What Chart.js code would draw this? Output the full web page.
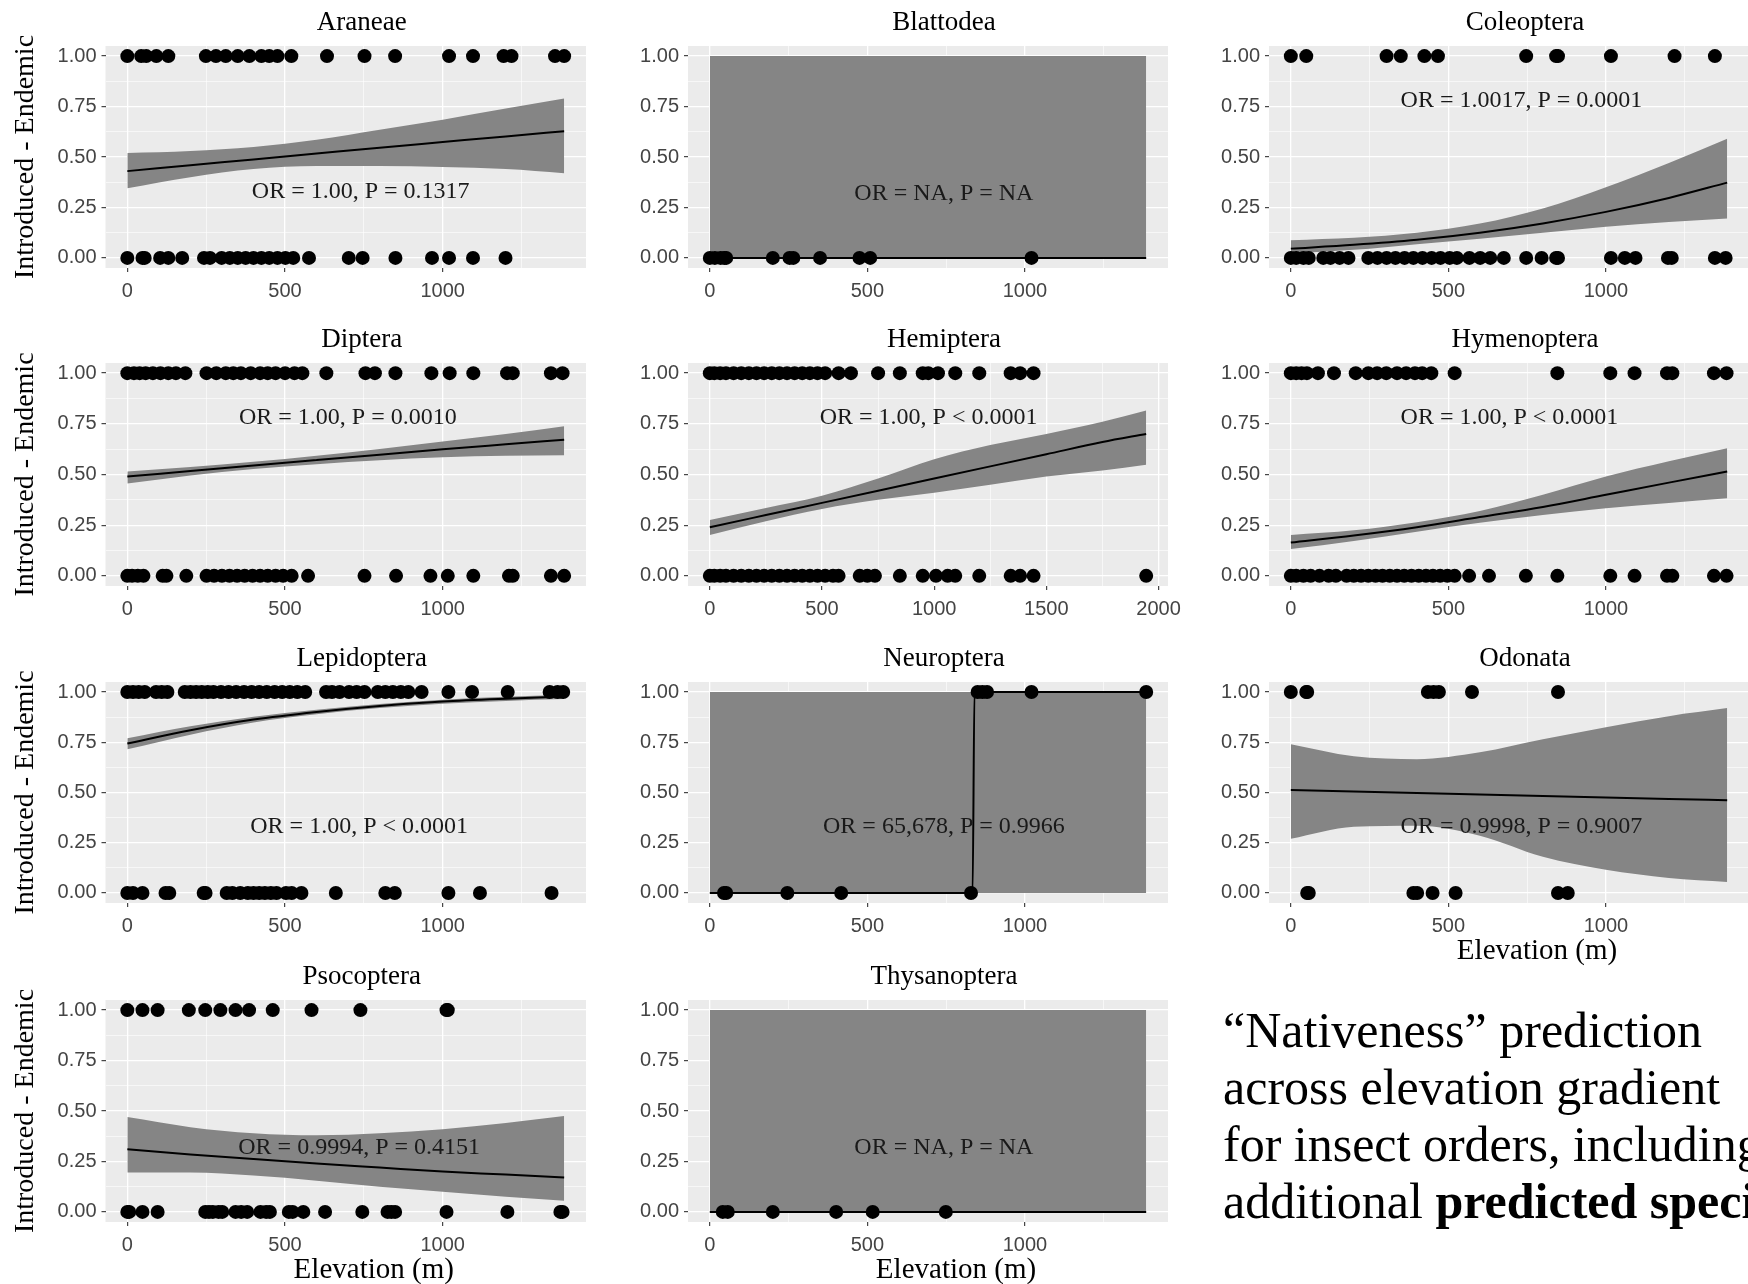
<!DOCTYPE html>
<html>
<head>
<meta charset="utf-8">
<script src="https://cdn.jsdelivr.net/npm/chart.js@4.4.0/dist/chart.umd.min.js"></script>
<style>
  html, body { margin: 0; padding: 0; background: #fff; }
  #wrap { position: relative; width: 1748px; height: 1284px; overflow: hidden; background: #fff; }
  #wrap canvas { position: absolute; }
  #caption { position: absolute; left: 1223px; top: 1002px; font: 50px/57px "Liberation Serif", "Times New Roman", serif; color: #000; white-space: nowrap; }
</style>
</head>
<body>
<div id="wrap">
  <div id="caption">“Nativeness” prediction<br>across elevation gradient<br>for insect orders, including<br>additional <b>predicted species</b></div>
</div>
<script>
// x grids of the fitted curves (elevation, m)
const gridX = [0, 200, 400, 600, 800, 1000, 1200, 1385];
const hemipteraGridX = [0, 250, 500, 750, 1000, 1250, 1500, 1750, 1945];
const neuropteraGridX = [0, 834, 840, 1385];
const flatGridX = [0, 1385];

// elevations of records at 1.00 (Y1) and 0.00 (Y0), fit, lower / upper band
const araneaeY1 = [0, 44, 60, 92, 130, 249, 281, 312, 350, 387, 425, 450, 476, 520, 633, 752, 849, 1020, 1096, 1193, 1218, 1356, 1385];
const araneaeY0 = [0, 48, 55, 104, 130, 174, 243, 262, 299, 325, 350, 375, 400, 425, 450, 476, 501, 526, 576, 702, 746, 850, 966, 1020, 1096, 1199];
const araneaeFit = [0.43, 0.459, 0.488, 0.517, 0.546, 0.574, 0.602, 0.628];
const araneaeLo = [0.345, 0.40, 0.44, 0.455, 0.455, 0.45, 0.44, 0.42];
const araneaeHi = [0.52, 0.53, 0.55, 0.585, 0.635, 0.685, 0.74, 0.79];

const blattodeaY1 = [];
const blattodeaY0 = [0, 16, 34, 46, 52, 200, 253, 265, 350, 475, 509, 1021];
const blattodeaFit = [0, 0];
const blattodeaLo = [0, 0];
const blattodeaHi = [1, 1];

const coleopteraY1 = [0, 49, 304, 349, 424, 467, 747, 842, 848, 1016, 1218, 1346];
const coleopteraY0 = [0, 17, 40, 57, 103, 126, 155, 183, 246, 275, 304, 332, 361, 389, 418, 447, 475, 504, 527, 567, 601, 633, 676, 747, 796, 842, 848, 1016, 1060, 1094, 1197, 1209, 1346, 1380];
const coleopteraFit = [0.046, 0.065, 0.09, 0.125, 0.171, 0.228, 0.297, 0.373];
const coleopteraLo = [0.022, 0.04, 0.068, 0.095, 0.125, 0.155, 0.178, 0.195];
const coleopteraHi = [0.088, 0.10, 0.125, 0.17, 0.245, 0.35, 0.47, 0.59];

const dipteraY1 = [0, 21, 39, 58, 81, 105, 130, 154, 184, 251, 282, 312, 336, 360, 391, 421, 445, 470, 500, 530, 555, 631, 755, 785, 850, 964, 1022, 1097, 1204, 1222, 1343, 1380];
const dipteraY0 = [0, 15, 33, 51, 112, 124, 187, 251, 275, 300, 324, 348, 372, 397, 421, 445, 470, 494, 521, 573, 752, 852, 961, 1016, 1097, 1210, 1222, 1343, 1385];
const dipteraFit = [0.49, 0.517, 0.544, 0.571, 0.598, 0.624, 0.649, 0.672];
const dipteraLo = [0.455, 0.495, 0.527, 0.551, 0.57, 0.585, 0.592, 0.595];
const dipteraHi = [0.515, 0.537, 0.563, 0.593, 0.626, 0.663, 0.70, 0.738];

const hemipteraY1 = [0, 20, 46, 72, 106, 140, 174, 208, 242, 276, 310, 344, 378, 412, 446, 480, 514, 574, 629, 750, 847, 949, 974, 1017, 1094, 1201, 1341, 1383, 1443];
const hemipteraY0 = [0, 20, 46, 72, 106, 140, 174, 208, 242, 276, 310, 344, 378, 412, 446, 480, 514, 549, 574, 668, 702, 736, 847, 949, 1008, 1060, 1094, 1201, 1341, 1383, 1443, 1945];
const hemipteraFit = [0.24, 0.30, 0.36, 0.42, 0.48, 0.54, 0.60, 0.66, 0.70];
const hemipteraLo = [0.202, 0.27, 0.33, 0.375, 0.41, 0.45, 0.49, 0.52, 0.548];
const hemipteraHi = [0.276, 0.335, 0.395, 0.48, 0.575, 0.645, 0.70, 0.76, 0.816];

const hymenopteraY1 = [0, 17, 34, 51, 86, 137, 206, 246, 274, 303, 337, 366, 394, 417, 446, 520, 846, 1014, 1091, 1194, 1211, 1343, 1383];
const hymenopteraY0 = [0, 17, 40, 63, 91, 120, 143, 177, 200, 223, 246, 269, 291, 314, 337, 360, 383, 406, 429, 451, 474, 497, 520, 566, 629, 746, 846, 1014, 1091, 1194, 1211, 1343, 1383];
const hymenopteraFit = [0.164, 0.199, 0.24, 0.29, 0.34, 0.40, 0.46, 0.515];
const hymenopteraLo = [0.132, 0.172, 0.218, 0.262, 0.30, 0.334, 0.36, 0.383];
const hymenopteraHi = [0.202, 0.225, 0.265, 0.32, 0.40, 0.49, 0.565, 0.63];

const lepidopteraY1 = [0, 18, 36, 55, 91, 109, 127, 182, 200, 218, 236, 255, 273, 297, 321, 345, 370, 394, 418, 442, 467, 491, 515, 539, 564, 630, 649, 673, 703, 727, 752, 794, 818, 842, 867, 891, 933, 1018, 1093, 1206, 1339, 1364, 1382];
const lepidopteraY0 = [0, 18, 48, 121, 133, 242, 248, 315, 333, 358, 382, 400, 418, 436, 455, 473, 503, 521, 552, 661, 818, 848, 1018, 1118, 1345];
const lepidopteraFit = [0.744, 0.81, 0.863, 0.901, 0.931, 0.953, 0.967, 0.977];
const lepidopteraLo = [0.715, 0.788, 0.848, 0.889, 0.92, 0.942, 0.956, 0.965];
const lepidopteraHi = [0.77, 0.83, 0.877, 0.912, 0.94, 0.962, 0.976, 0.985];

const neuropteraY1 = [850, 865, 880, 1021, 1385];
const neuropteraY0 = [45, 52, 246, 417, 829];
const neuropteraFit = [0, 0, 1, 1];
const neuropteraLo = [0, 0, 0, 0];
const neuropteraHi = [1, 1, 1, 1];

const odonataY1 = [0, 49, 52, 435, 453, 470, 575, 848];
const odonataY0 = [52, 57, 389, 401, 450, 523, 848, 879];
const odonataFit = [0.512, 0.505, 0.497, 0.49, 0.482, 0.475, 0.468, 0.461];
const odonataLo = [0.27, 0.33, 0.335, 0.285, 0.18, 0.115, 0.075, 0.055];
const odonataHi = [0.74, 0.68, 0.666, 0.70, 0.765, 0.825, 0.88, 0.92];

const psocopteraY1 = [0, 48, 96, 195, 247, 295, 343, 386, 461, 584, 739, 1012, 1016];
const psocopteraY0 = [0, 6, 48, 96, 247, 259, 271, 289, 301, 343, 361, 380, 422, 440, 452, 512, 524, 558, 627, 745, 825, 837, 849, 1012, 1205, 1373, 1380];
const psocopteraFit = [0.31, 0.285, 0.262, 0.24, 0.22, 0.20, 0.185, 0.17];
const psocopteraLo = [0.195, 0.195, 0.18, 0.155, 0.125, 0.10, 0.075, 0.055];
const psocopteraHi = [0.47, 0.42, 0.39, 0.38, 0.39, 0.41, 0.44, 0.475];

const thysanopteraY1 = [];
const thysanopteraY0 = [41, 57, 200, 401, 517, 749];
const thysanopteraFit = [0, 0];
const thysanopteraLo = [0, 0];
const thysanopteraHi = [1, 1];

const orderNames = ['Araneae', 'Blattodea', 'Coleoptera', 'Diptera', 'Hemiptera', 'Hymenoptera',
  'Lepidoptera', 'Neuroptera', 'Odonata', 'Psocoptera', 'Thysanoptera'];
const orLabels = ['OR = 1.00, P = 0.1317', 'OR = NA, P = NA', 'OR = 1.0017, P = 0.0001', 'OR = 1.00, P = 0.0010',
  'OR = 1.00, P < 0.0001', 'OR = 1.00, P < 0.0001', 'OR = 1.00, P < 0.0001', 'OR = 65,678, P = 0.9966',
  'OR = 0.9998, P = 0.9007', 'OR = 0.9994, P = 0.4151', 'OR = NA, P = NA'];
const yTickLabels = ['0.00', '0.25', '0.50', '0.75', '1.00'];

// page layout (px)
const COLS = [
  { left: 0, width: 600, plotL: 105.5, plotR: 586 },
  { left: 600, width: 590, plotL: 688, plotR: 1168 },
  { left: 1190, width: 600, plotL: 1269, plotR: 1749 }
];
const ROWS = [
  { top: 0, height: 320, plotT: 46, plotB: 268 },
  { top: 320, height: 315, plotT: 363, plotB: 586 },
  { top: 635, height: 345, plotT: 682, plotB: 903 },
  { top: 960, height: 324, plotT: 1000, plotB: 1222 }
];

const panels = [
  { row: 0, col: 0, gx: gridX, y1: araneaeY1, y0: araneaeY0, fit: araneaeFit, lo: araneaeLo, hi: araneaeHi, noteX: 740, noteY: 0.33 },
  { row: 0, col: 1, gx: flatGridX, y1: blattodeaY1, y0: blattodeaY0, fit: blattodeaFit, lo: blattodeaLo, hi: blattodeaHi, noteX: 743, noteY: 0.32 },
  { row: 0, col: 2, gx: gridX, y1: coleopteraY1, y0: coleopteraY0, fit: coleopteraFit, lo: coleopteraLo, hi: coleopteraHi, noteX: 732, noteY: 0.78 },
  { row: 1, col: 0, gx: gridX, y1: dipteraY1, y0: dipteraY0, fit: dipteraFit, lo: dipteraLo, hi: dipteraHi, noteX: 699, noteY: 0.78 },
  { row: 1, col: 1, gx: hemipteraGridX, y1: hemipteraY1, y0: hemipteraY0, fit: hemipteraFit, lo: hemipteraLo, hi: hemipteraHi, noteX: 975, noteY: 0.78 },
  { row: 1, col: 2, gx: gridX, y1: hymenopteraY1, y0: hymenopteraY0, fit: hymenopteraFit, lo: hymenopteraLo, hi: hymenopteraHi, noteX: 694, noteY: 0.78 },
  { row: 2, col: 0, gx: gridX, y1: lepidopteraY1, y0: lepidopteraY0, fit: lepidopteraFit, lo: lepidopteraLo, hi: lepidopteraHi, noteX: 735, noteY: 0.33 },
  { row: 2, col: 1, gx: neuropteraGridX, y1: neuropteraY1, y0: neuropteraY0, fit: neuropteraFit, lo: neuropteraLo, hi: neuropteraHi, noteX: 743, noteY: 0.33 },
  { row: 2, col: 2, gx: gridX, y1: odonataY1, y0: odonataY0, fit: odonataFit, lo: odonataLo, hi: odonataHi, noteX: 732, noteY: 0.33, xTitle: true },
  { row: 3, col: 0, gx: gridX, y1: psocopteraY1, y0: psocopteraY0, fit: psocopteraFit, lo: psocopteraLo, hi: psocopteraHi, noteX: 735, noteY: 0.32, xTitle: true },
  { row: 3, col: 1, gx: flatGridX, y1: thysanopteraY1, y0: thysanopteraY0, fit: thysanopteraFit, lo: thysanopteraLo, hi: thysanopteraHi, noteX: 743, noteY: 0.32, xTitle: true }
];

const SERIF = '"Liberation Serif", "Times New Roman", serif';
const SANS = '"Liberation Sans", Arial, sans-serif';
const RIBBON = '#858585';

// ggplot-like panel background and the texts around each panel
const decor = {
  id: 'decor',
  beforeDraw(chart, args, o) {
    const a = chart.chartArea, ctx = chart.ctx;
    ctx.save();
    ctx.fillStyle = '#EBEBEB';
    ctx.fillRect(a.left, a.top, a.right - a.left, a.bottom - a.top);
    ctx.restore();
  },
  afterDraw(chart, args, o) {
    const a = chart.chartArea, ctx = chart.ctx;
    const cx = (a.left + a.right) / 2;
    ctx.save();
    ctx.textAlign = 'center';
    ctx.textBaseline = 'middle';
    ctx.fillStyle = '#000';
    ctx.font = '27px ' + SERIF;
    ctx.fillText(o.title, cx + 16, a.top - 23);
    ctx.fillStyle = '#1a1a1a';
    ctx.font = '24px ' + SERIF;
    ctx.fillText(o.note, chart.scales.x.getPixelForValue(o.noteX), chart.scales.y.getPixelForValue(o.noteY));
    ctx.fillStyle = '#000';
    if (o.xTitle) {
      ctx.font = '29px ' + SERIF;
      ctx.fillText('Elevation (m)', cx + 28, a.bottom + 48);
    }
    if (o.yTitle) {
      ctx.translate(26, (a.top + a.bottom) / 2);
      ctx.rotate(-Math.PI / 2);
      ctx.font = '28px ' + SERIF;
      ctx.fillText('Introduced - Endemic', 0, 0);
    }
    ctx.restore();
  }
};

const wrap = document.getElementById('wrap');
const isMajorX = v => Math.abs(v % 500) < 1e-6;
const isMajorY = v => Math.abs(v * 4 - Math.round(v * 4)) < 1e-6;
const pairs = (xs, ys) => xs.map((x, i) => ({ x: x, y: ys[i] }));

panels.forEach((p, k) => {
  const col = COLS[p.col], row = ROWS[p.row];
  const canvas = document.createElement('canvas');
  canvas.width = col.width;
  canvas.height = row.height;
  canvas.style.left = col.left + 'px';
  canvas.style.top = row.top + 'px';
  wrap.appendChild(canvas);
  const xEnd = p.gx[p.gx.length - 1];
  const curve = { pointRadius: 0, pointHoverRadius: 0, cubicInterpolationMode: 'monotone' };

  new Chart(canvas, {
    type: 'line',
    data: {
      datasets: [
        Object.assign({ data: pairs(p.gx, p.hi), fill: '+1', backgroundColor: RIBBON, borderColor: 'rgba(0,0,0,0)', borderWidth: 1, order: 2 }, curve),
        Object.assign({ data: pairs(p.gx, p.lo), fill: false, borderColor: 'rgba(0,0,0,0)', borderWidth: 1, order: 2 }, curve),
        Object.assign({ data: pairs(p.gx, p.fit), fill: false, borderColor: '#000', borderWidth: 2, order: 1 }, curve),
        { data: p.y0.map(x => ({ x: x, y: 0 })), showLine: false, pointRadius: 7, pointHoverRadius: 7, pointBackgroundColor: '#000', pointBorderWidth: 0, order: 0 },
        { data: p.y1.map(x => ({ x: x, y: 1 })), showLine: false, pointRadius: 7, pointHoverRadius: 7, pointBackgroundColor: '#000', pointBorderWidth: 0, order: 0 }
      ]
    },
    options: {
      responsive: false,
      animation: false,
      devicePixelRatio: 1,
      events: [],
      layout: { padding: { left: 0, top: row.plotT - row.top, right: col.left + col.width - col.plotR, bottom: 0 } },
      plugins: {
        legend: { display: false },
        tooltip: { enabled: false },
        decor: { title: orderNames[k], note: orLabels[k], noteX: p.noteX, noteY: p.noteY, xTitle: !!p.xTitle, yTitle: p.col === 0 }
      },
      scales: {
        x: {
          type: 'linear',
          min: -0.05 * xEnd,
          max: 1.05 * xEnd,
          afterFit: s => { s.height = row.top + row.height - row.plotB; },
          afterBuildTicks: s => {
            const t = [];
            for (let v = Math.ceil(s.min / 250) * 250; v <= s.max; v += 250) t.push({ value: v });
            s.ticks = t;
          },
          border: { display: false },
          grid: {
            color: '#ffffff',
            lineWidth: c => (c.tick && isMajorX(c.tick.value) ? 1.3 : 0.6),
            tickColor: c => (c.tick && isMajorX(c.tick.value) ? '#333333' : 'rgba(0,0,0,0)'),
            tickLength: 4,
            tickWidth: 1.1
          },
          ticks: {
            autoSkip: false, maxRotation: 0, padding: 7, color: '#444444',
            font: { family: SANS, size: 20 },
            callback: v => (isMajorX(v) ? String(Math.round(v)) : '')
          }
        },
        y: {
          type: 'linear',
          min: -0.05,
          max: 1.05,
          afterFit: s => { s.width = col.plotL - col.left; },
          afterBuildTicks: s => {
            const t = [];
            for (let i = 0; i <= 8; i++) t.push({ value: i * 0.125 });
            s.ticks = t;
          },
          border: { display: false },
          grid: {
            color: '#ffffff',
            lineWidth: c => (c.tick && isMajorY(c.tick.value) ? 1.3 : 0.6),
            tickColor: c => (c.tick && isMajorY(c.tick.value) ? '#333333' : 'rgba(0,0,0,0)'),
            tickLength: 4,
            tickWidth: 1.1
          },
          ticks: {
            padding: 5, color: '#444444',
            font: { family: SANS, size: 20 },
            callback: v => (isMajorY(v) ? yTickLabels[Math.round(v * 4)] : '')
          }
        }
      }
    },
    plugins: [decor]
  });
});
</script>
</body>
</html>
